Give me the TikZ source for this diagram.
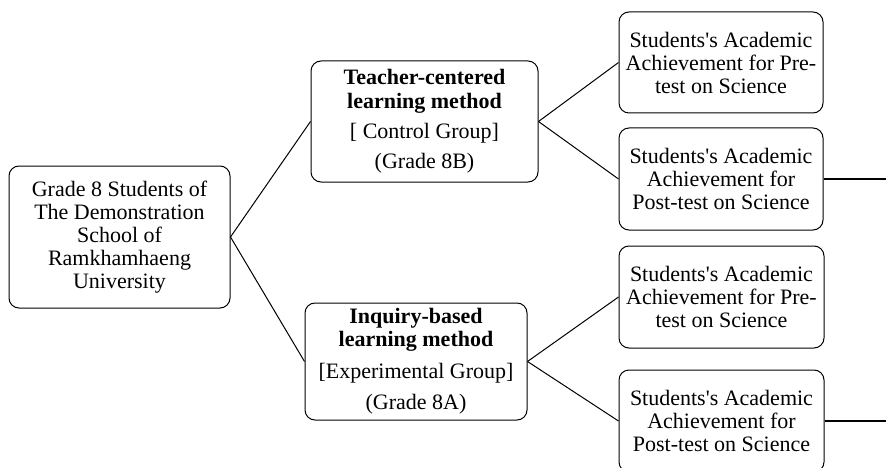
\documentclass[tikz,border=0pt]{standalone}
\usepackage{fontspec}
\setmainfont{Liberation Serif}[Ligatures=TeXOff]
\begin{document}
\begin{tikzpicture}[x=1pt,y=-1pt,
  box/.style={draw, line width=1pt, rounded corners=10pt, align=center, inner sep=0pt,
    font=\fontsize{22}{23}\selectfont},
  conn/.style={line width=1pt},
  thick conn/.style={line width=2.2pt}]
\clip (0,0) rectangle (886,468);
\useasboundingbox (0,0) rectangle (886,468);
\node[box, minimum width=221pt, minimum height=142pt] (root) at (119.5,237)
  {Grade 8 Students of\\The Demonstration\\School of\\Ramkhamhaeng\\University};
\node[box, minimum width=227pt, minimum height=121pt] (teacher) at (424.5,121.5)
  {\textbf{Teacher-centered}\\[1pt]\textbf{learning method}\\[7pt]{[} Control Group]\\[7pt](Grade 8B)};
\node[box, minimum width=222pt, minimum height=117pt] (inquiry) at (416,361.5)
  {\textbf{Inquiry-based}\\\textbf{learning method}\\[9pt]{[}Experimental Group]\\[8pt](Grade 8A)};
\node[box, minimum width=204pt, minimum height=101pt] (pre1) at (721,62.5)
  {Students's Academic\\Achievement for Pre-\\test on Science};
\node[box, minimum width=204pt, minimum height=102pt] (post1) at (721,179)
  {Students's Academic\\Achievement for\\Post-test on Science};
\node[box, minimum width=205pt, minimum height=102pt] (pre2) at (721.5,297)
  {Students's Academic\\Achievement for Pre-\\test on Science};
\node[box, minimum width=205pt, minimum height=102pt] (post2) at (721.5,421)
  {Students's Academic\\Achievement for\\Post-test on Science};
\coordinate (e1) at (886,179);
\coordinate (e2) at (886,421);
\draw[conn] (root.east) -- (teacher.west);
\draw[conn] (root.east) -- (inquiry.west);
\draw[conn] (teacher.east) -- (pre1.west);
\draw[conn] (teacher.east) -- (post1.west);
\draw[conn] (inquiry.east) -- (pre2.west);
\draw[conn] (inquiry.east) -- (post2.west);
\draw[thick conn] (post1.east) -- (e1);
\draw[thick conn] (post2.east) -- (e2);
\end{tikzpicture}
\end{document}
